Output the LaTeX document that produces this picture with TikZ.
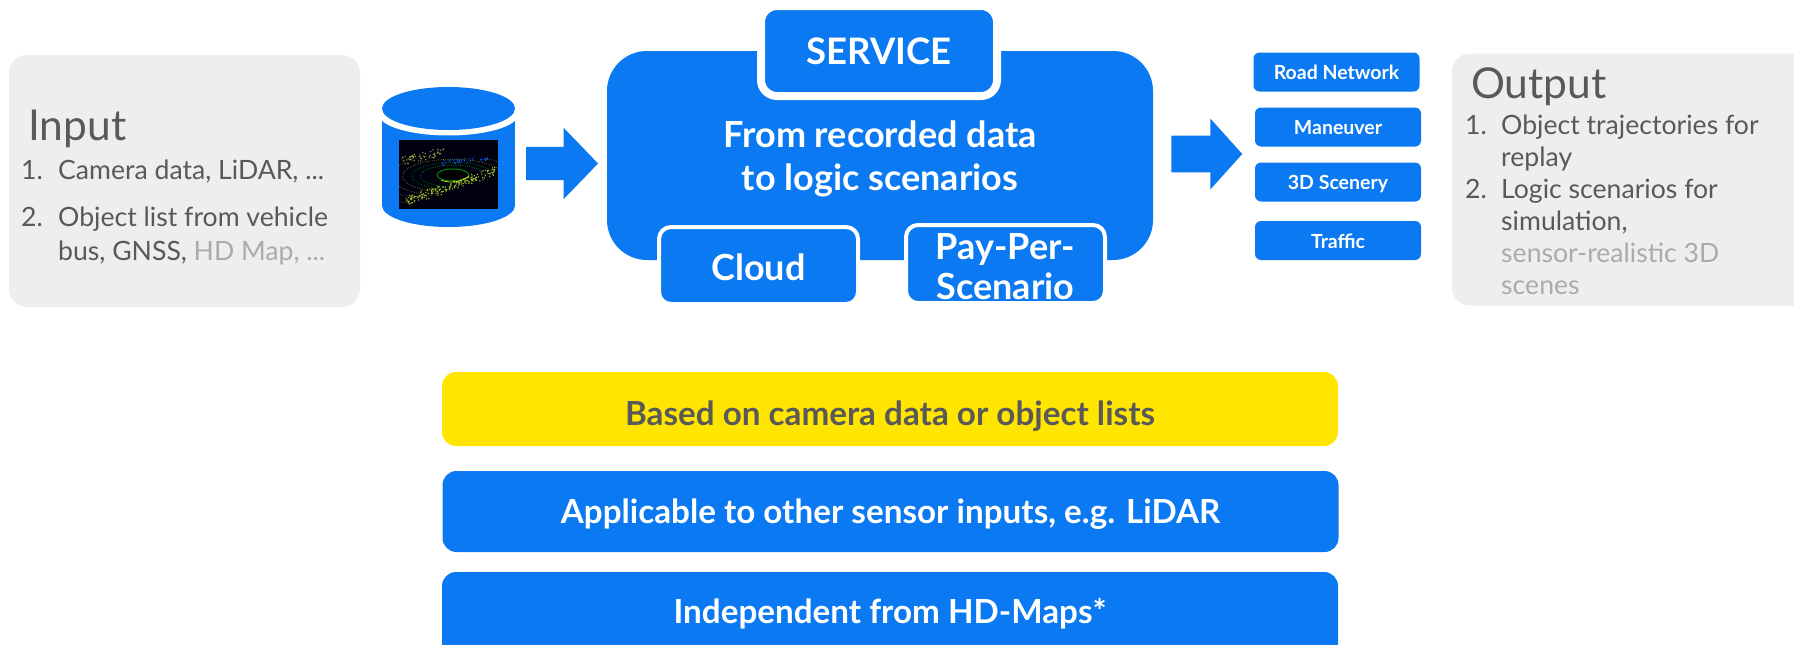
\documentclass[tikz,border=0pt]{standalone}
\usepackage{fontspec}
\setmainfont{Lato}
\usetikzlibrary{shapes.arrows}
\definecolor{vblue}{HTML}{0B79F1}
\definecolor{vgrey}{HTML}{EEEEEE}
\definecolor{vtext}{HTML}{595959}
\definecolor{vfade}{HTML}{ABABAB}
\definecolor{vyellow}{HTML}{FFE500}
\newcommand{\fsz}[1]{\fontsize{#1}{#1}\selectfont}
% set a line with its baseline #1 below the node's centre
\newcommand{\bl}[2]{\raisebox{-#1pt}[0pt][0pt]{#2}}
\tikzset{
  bluebox/.style={fill=vblue,text=white,inner sep=0pt,align=center,font=\bfseries},
  greybox/.style={fill=vgrey,inner sep=0pt,rounded corners=18pt},
  line/.style={anchor=base west,inner sep=0pt,text=vtext,font=\fsz{26.6}},
  fade/.style={line,text=vfade},
  head/.style={anchor=base west,inner sep=0pt,text=vtext,font=\fsz{42.5}},
  bigarrow/.style={single arrow,fill=vblue,inner sep=0pt,single arrow head extend=19pt,minimum width=71pt,minimum height=72pt,single arrow tip angle=92},
  smallbox/.style={bluebox,rounded corners=6pt,font=\bfseries\fsz{19.5},minimum width=166pt,minimum height=39pt},
  widebox/.style={bluebox,rounded corners=14pt,font=\bfseries\fsz{33.2},minimum width=896pt}
}
\begin{document}
\begin{tikzpicture}[x=1pt,y=-1pt]
\useasboundingbox (0,0) rectangle (1794,645);
\clip (0,0) rectangle (1794,645);
% input panel
\node[greybox,minimum width=351pt,minimum height=252pt] (inbox) at (184.5,181) {};
\node[head] (intitle) at (28,140) {Input};
\node[line] (in1n) at (21,179) {1.};
\node[line] (in1) at (58,179) {Camera data, LiDAR, ...};
\node[line] (in2n) at (21,226) {2.};
\node[line] (in2) at (58,226) {Object list from vehicle};
\node[line] (in3) at (58,260) {bus, GNSS, \textcolor{vfade}{HD Map, ...}};
% database
\fill[vblue] (382,108.5) rectangle (515,205.5);
\fill[vblue] (448.5,205.5) ellipse [x radius=66.5,y radius=21.5];
\begin{scope}
  \clip (382,108) rectangle (515,160);
  \fill[white] (448.5,114) ellipse [x radius=70,y radius=21.5];
\end{scope}
\fill[vblue] (448.5,108.5) ellipse [x radius=66.5,y radius=21.5];
% point cloud picture
\begin{scope}
  \clip (399,140) rectangle (498,209);
  \fill[black!94!blue] (399,140) rectangle (498,209);
  \begin{scope}
    \clip (399,160) -- (498,158) -- (498,172) -- (410,204) -- (399,204) -- cycle;
    \foreach \r/\c in {1.35/green!60!black,1.7/green!50!black,2.1/olive!85!green,2.6/olive!80!black,3.2/olive!70!black,3.9/olive!60!black,4.7/olive!50!black}
      \draw[\c,line width=.6pt,dash pattern=on .7pt off 1.1pt] (453,176) ellipse [x radius=24*\r,y radius=8*\r];
  \end{scope}
  \pgfmathsetseed{11}
  \foreach \i in {1,...,190}{
    \pgfmathsetmacro\tt{rnd}
    \pgfmathsetmacro\dx{(rnd-.5)*9}
    \pgfmathsetmacro\dy{(rnd-.5)*8}
    \fill[yellow!70!green!85!black] (408+90*\tt+\dx,201-31*\tt+\dy) circle (.75);
  }
  \foreach \i in {1,...,60}{
    \pgfmathsetmacro\tt{rnd}
    \pgfmathsetmacro\dy{(rnd-.5)*9}
    \fill[yellow!60!black] (402+42*\tt,161-9*\tt+\dy) circle (.7);
  }
  \foreach \i in {1,...,40}{
    \pgfmathsetmacro\tt{rnd}
    \pgfmathsetmacro\dy{(rnd-.5)*5}
    \fill[blue!65!cyan] (442+46*\tt,163-5*\tt+\dy) circle (.7);
  }
  \fill[black] (453,175) ellipse [x radius=14,y radius=5];
  \draw[green!55!black,line width=1pt] (453,175) ellipse [x radius=16,y radius=6];
  \draw[yellow!80!green!90!black,line width=.8pt] (441,180) .. controls (450,184) and (462,182) .. (469,176);
\end{scope}
\node[bigarrow] (arrowin) at (554,163.5) {\rule{0pt}{33pt}};
% main service
\node[bluebox,rounded corners=40pt,minimum width=546pt,minimum height=209pt,font=\bfseries\fsz{36}] (main) at (880,155.5) {\bl{13.5}{From recorded data}\\[7pt]\bl{13.5}{to logic scenarios}};
\node[bluebox,draw=white,line width=8pt,rounded corners=16pt,minimum width=236pt,minimum height=90pt,font=\bfseries\fsz{36.5}] (service) at (879,51) {\bl{13.5}{SERVICE}};
\node[bluebox,draw=white,line width=4pt,rounded corners=12pt,minimum width=199pt,minimum height=77pt,font=\bfseries\fsz{36}] (cloud) at (758.5,265.5) {\bl{14.5}{Cloud}};
\node[bluebox,draw=white,line width=4pt,rounded corners=12pt,minimum width=199pt,minimum height=78pt,font=\bfseries\fsz{36}] (pay) at (1005.5,264) {\bl{15}{Pay-Per-}\\[4pt]\bl{15}{Scenario}};
\node[bigarrow,minimum height=71pt,single arrow tip angle=96,single arrow head extend=17pt] (arrowout) at (1198.5,154) {\rule{0pt}{36pt}};
% outputs
\node[smallbox] (road) at (1336.5,72) {\bl{7.5}{Road Network}};
\node[smallbox] (maneuver) at (1338,127) {\bl{7.5}{Maneuver}};
\node[smallbox] (scenery) at (1338,182) {\bl{7.5}{3D Scenery}};
\node[smallbox] (traffic) at (1338,240.5) {\bl{7.5}{Traffic}};
% output panel
\node[greybox,minimum width=380pt,minimum height=252pt] (outbox) at (1642,179.5) {};
\node[head] (outtitle) at (1471,98) {Output};
\node[line] (out1n) at (1465,134) {1.};
\node[line] (out1) at (1501,134) {Object trajectories for};
\node[line] (out2) at (1501,166) {replay};
\node[line] (out3n) at (1465,198) {2.};
\node[line] (out3) at (1501,198) {Logic scenarios for};
\node[line] (out4) at (1501,230) {simulation,};
\node[fade] (out5) at (1501,262) {sensor-realistic 3D};
\node[fade] (out6) at (1501,294) {scenes};
% bottom bars
\node[widebox,fill=vyellow,text=vtext,minimum height=74pt] (based) at (890,409) {\bl{16}{Based on camera data or object lists}};
\node[widebox,minimum height=81pt] (applicable) at (890.5,511.5) {\bl{12}{Applicable to other sensor inputs, e.g. LiDAR}};
\node[widebox,minimum height=90pt] (hdmaps) at (890,617) {\bl{6}{Independent from HD-Maps*}};
\end{tikzpicture}
\end{document}
